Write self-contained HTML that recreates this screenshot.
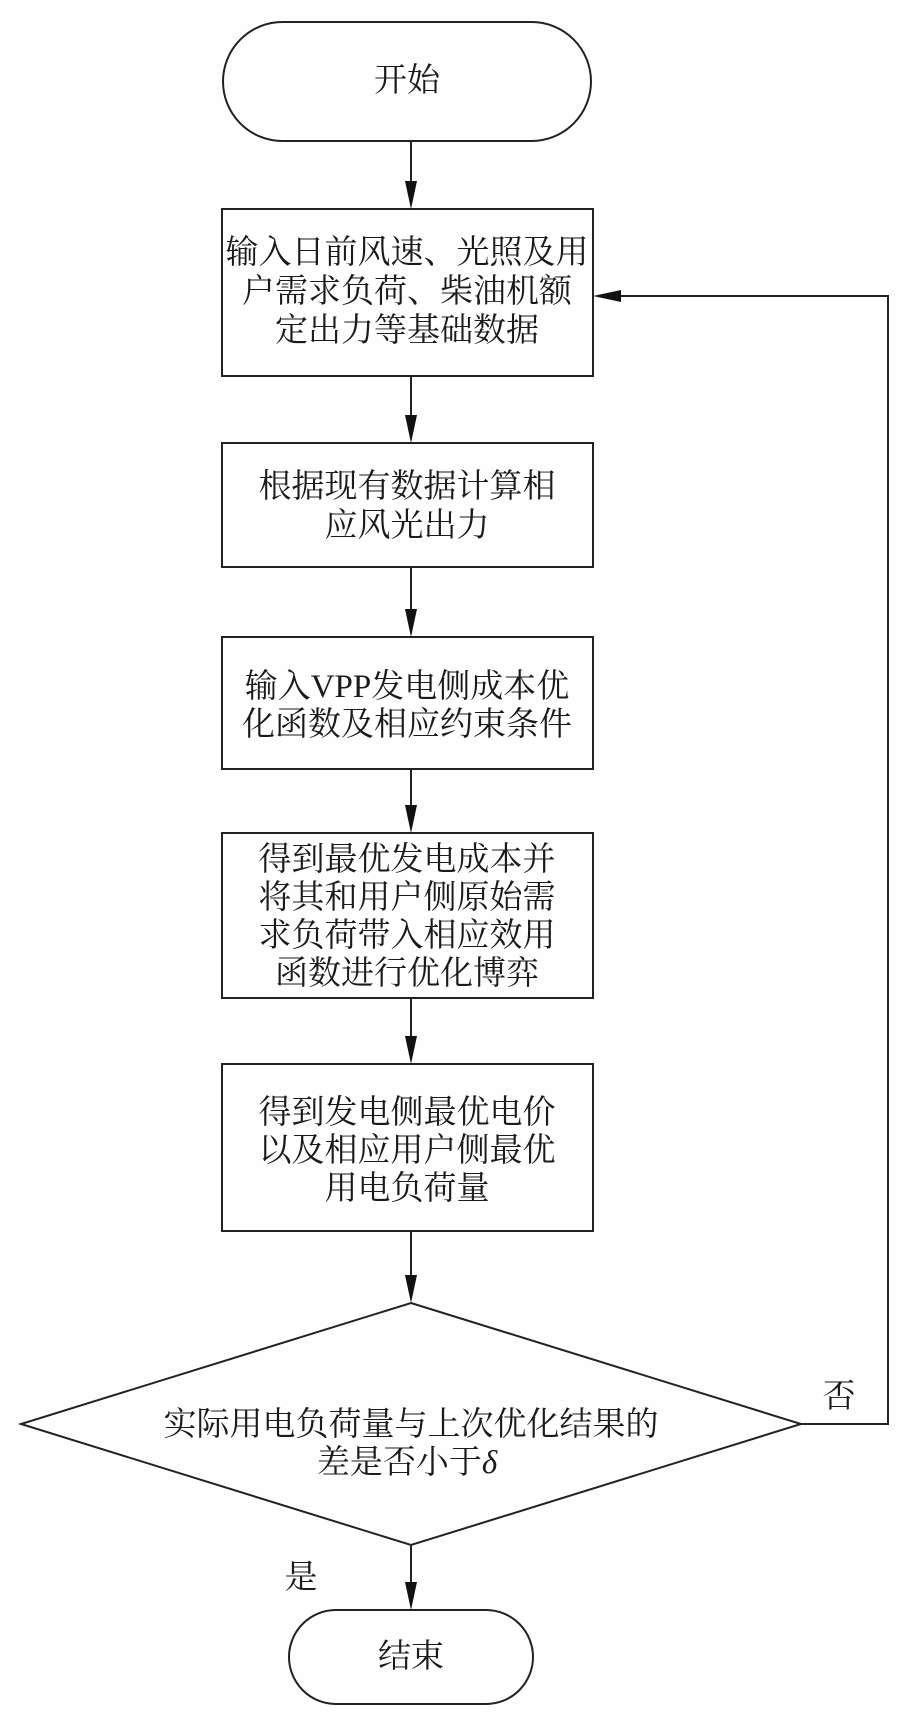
<!DOCTYPE html>
<html><head><meta charset="utf-8"><style>
html,body{margin:0;padding:0;background:#fefefe;}
svg{display:block}
text{font-family:"Liberation Serif","Noto Serif CJK SC",serif;font-size:33px;fill:#1a1a1a;text-anchor:middle;dominant-baseline:central}
</style></head><body>
<svg width="917" height="1712" viewBox="0 0 917 1712" xmlns="http://www.w3.org/2000/svg">
<g fill="none" stroke="#222" stroke-width="2">
<rect x="223" y="22" width="368" height="119" rx="59.5" ry="59.5"/>
<rect x="222" y="209" width="371" height="167"/>
<rect x="222" y="443" width="371" height="124"/>
<rect x="222" y="637" width="371" height="132"/>
<rect x="222" y="833" width="371" height="165"/>
<rect x="222" y="1064" width="371" height="167"/>
<polygon points="411,1303 801,1424 411,1545 21,1424"/>
<rect x="289" y="1610" width="244" height="94" rx="47" ry="47"/>
<line x1="411" y1="141" x2="411" y2="185"/>
<line x1="411" y1="376" x2="411" y2="419"/>
<line x1="411" y1="567" x2="411" y2="613"/>
<line x1="411" y1="769" x2="411" y2="809"/>
<line x1="411" y1="998" x2="411" y2="1040"/>
<line x1="411" y1="1231" x2="411" y2="1279"/>
<line x1="411" y1="1545" x2="411" y2="1586"/>
<polyline points="801,1424 888,1424 888,296 620,296"/>
</g>
<g fill="#111">
<polygon points="405,181 417,181 411,209"/>
<polygon points="405,415 417,415 411,443"/>
<polygon points="405,609 417,609 411,637"/>
<polygon points="405,805 417,805 411,833"/>
<polygon points="405,1036 417,1036 411,1064"/>
<polygon points="405,1275 417,1275 411,1303"/>
<polygon points="405,1582 417,1582 411,1610"/>
<polygon points="621,290 621,302 593,296"/>
</g>
<text x="407" y="81">开始</text>
<text x="407" y="253">输入日前风速、光照及用</text>
<text x="407" y="292">户需求负荷、柴油机额</text>
<text x="407" y="331">定出力等基础数据</text>
<text x="407" y="487">根据现有数据计算相</text>
<text x="407" y="526">应风光出力</text>
<text x="407" y="687">输入VPP发电侧成本优</text>
<text x="407" y="725">化函数及相应约束条件</text>
<text x="407" y="860">得到最优发电成本并</text>
<text x="407" y="898">将其和用户侧原始需</text>
<text x="407" y="936">求负荷带入相应效用</text>
<text x="407" y="974">函数进行优化博弈</text>
<text x="407" y="1113">得到发电侧最优电价</text>
<text x="407" y="1151">以及相应用户侧最优</text>
<text x="407" y="1189">用电负荷量</text>
<text x="411" y="1425">实际用电负荷量与上次优化结果的</text>
<text x="407" y="1463">差是否小于<tspan font-style="italic">δ</tspan></text>
<text x="839" y="1397">否</text>
<text x="301" y="1578">是</text>
<text x="411" y="1657">结束</text>
</svg>
</body></html>
